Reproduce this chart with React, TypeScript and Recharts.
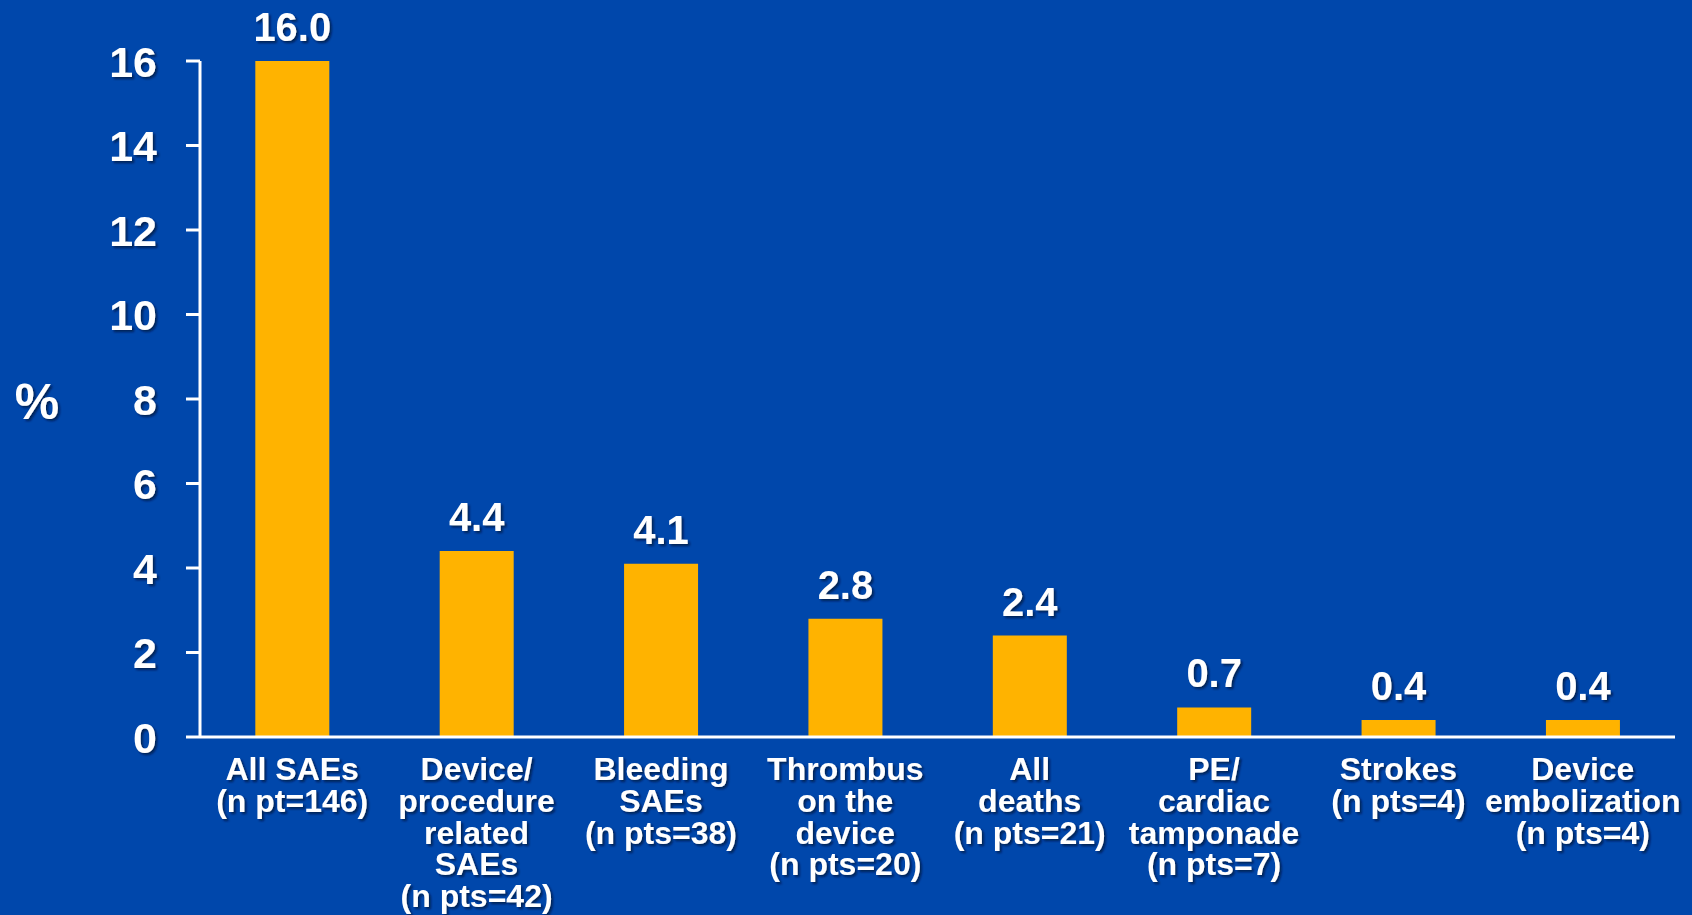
import React from 'react';
import { BarChart, Bar, XAxis, YAxis, LabelList, Label } from 'recharts';

const categories = [
  'All SAEs\n(n pt=146)',
  'Device/\nprocedure\nrelated\nSAEs\n(n pts=42)',
  'Bleeding\nSAEs\n(n pts=38)',
  'Thrombus\non the\ndevice\n(n pts=20)',
  'All\ndeaths\n(n pts=21)',
  'PE/\ncardiac\ntamponade\n(n pts=7)',
  'Strokes\n(n pts=4)',
  'Device\nembolization\n(n pts=4)',
];
const values = [16.0, 4.4, 4.1, 2.8, 2.4, 0.7, 0.4, 0.4];
const yTicks = [0, 2, 4, 6, 8, 10, 12, 14, 16];
const yLabel = '%';

const data = categories.map((c, i) => ({ name: c, value: values[i] }));

const BG = '#0047AB';
const BAR = '#FFB300';
const FONT = '"Liberation Sans", Arial, Helvetica, sans-serif';

const XTick = (props: any) => {
  const { x, y, payload } = props;
  const lines = String(payload.value).split('\n');
  return (
    <text x={x} y={y + 43} textAnchor="middle" fill="#fff" fontFamily={FONT} fontWeight="bold"
      fontSize={32} filter="url(#txtShadow)">
      {lines.map((l, i) => (
        <tspan key={i} x={x} dy={i === 0 ? 0 : 31.8}>{l}</tspan>
      ))}
    </text>
  );
};

const YTick = (props: any) => {
  const { x, y, payload } = props;
  return (
    <text x={x} y={y} dy={15.5} textAnchor="end" fill="#fff" fontFamily={FONT}
      fontWeight="bold" fontSize={43} filter="url(#txtShadow)">{payload.value}</text>
  );
};

const ValueLabel = (props: any) => {
  const { x, y, width, value } = props;
  return (
    <text x={x + width / 2} y={y - 20} textAnchor="middle" fill="#fff" fontFamily={FONT}
      fontWeight="bold" fontSize={40} filter="url(#txtShadow)">{Number(value).toFixed(1)}</text>
  );
};

const PctLabel = (props: any) => {
  const { viewBox } = props;
  return (
    <text x={viewBox.x + 37} y={viewBox.y + viewBox.height / 2 + 3} dy={17} textAnchor="middle" fill="#fff"
      fontFamily={FONT} fontWeight="bold" fontSize={50} filter="url(#txtShadow)">{yLabel}</text>
  );
};

export default function App() {
  return (
    <div style={{ position: 'absolute', left: 0, top: 0, width: 1692, height: 915, background: BG }}>
      <svg width={0} height={0} style={{ position: 'absolute' }}>
        <defs>
          <filter id="txtShadow" x="-20%" y="-20%" width="140%" height="140%">
            <feDropShadow dx={2} dy={2} stdDeviation={1} floodColor="#001030" floodOpacity={0.7} />
          </filter>
        </defs>
      </svg>
      <BarChart width={1692} height={915} data={data}
        margin={{ top: 61, right: 17, bottom: 0, left: 0 }} barCategoryGap="30%">
        <XAxis dataKey="name" height={178} interval={0} tickSize={0} tickMargin={0}
          axisLine={{ stroke: '#fff', strokeWidth: 3 }} tickLine={false} tick={<XTick />} />
        <YAxis width={200} domain={[0, 16]} ticks={yTicks} interval={0} tickSize={14} tickMargin={29}
          axisLine={{ stroke: '#fff', strokeWidth: 3 }} tickLine={{ stroke: '#fff', strokeWidth: 3 }}
          tick={<YTick />}>
          <Label content={<PctLabel />} />
        </YAxis>
        <Bar dataKey="value" fill={BAR} isAnimationActive={false}>
          <LabelList dataKey="value" content={<ValueLabel />} />
        </Bar>
      </BarChart>
    </div>
  );
}
